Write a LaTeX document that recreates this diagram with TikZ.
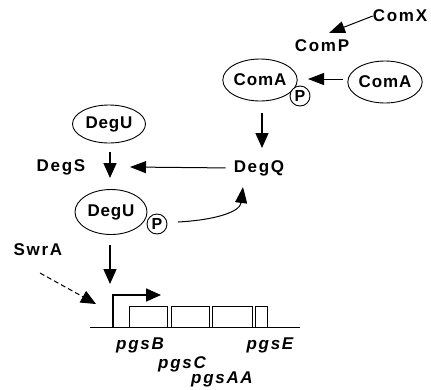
\documentclass[tikz,border=0pt]{standalone}
\usepackage{fontspec}
\setmainfont{Liberation Sans}
\usetikzlibrary{arrows.meta,shapes.geometric}
\newfontfamily\lblfont[LetterSpace=10]{Liberation Sans}
\newfontfamily\inlfont[LetterSpace=5]{Liberation Sans}
\tikzset{
  lbl/.style={font=\lblfont\bfseries\fontsize{17}{19}\selectfont, inner sep=0pt},
  gene/.style={font=\lblfont\bfseries\itshape\fontsize{17}{19}\selectfont, inner sep=0pt},
  ell/.style={draw, ellipse, line width=0.9pt, inner sep=0pt, font=\inlfont\bfseries\fontsize{17}{19}\selectfont},
  pc/.style={draw, circle, fill=white, line width=0.9pt, minimum size=20pt, inner sep=0pt, font=\bfseries\fontsize{16}{18}\selectfont},
  arr/.style={-{Triangle[length=15pt,width=13pt]}, line width=1.6pt},
  thinarr/.style={-{Triangle[length=16pt,width=12pt]}, line width=1pt},
  box/.style={draw, line width=0.9pt}
}
\begin{document}
\begin{tikzpicture}[x=1pt,y=-1pt]
\useasboundingbox (0,0) rectangle (431,389);
% top cluster
\node[lbl] (comx) at (400,16) {ComX};
\node[lbl] (comp) at (322,46) {ComP};
\node[ell, minimum width=71pt, minimum height=42pt] (comaL) at (260,80) {ComA};
\node[pc] (pL) at (300,96) {P};
\node[ell, minimum width=74pt, minimum height=42pt] (comaR) at (385,82) {ComA};
\coordinate (compTip) at (329,33);
\draw[thinarr] (comx.west) -- (compTip);
\coordinate (comaArrS) at (343,79);
\coordinate (comaArrE) at (308,79);
\draw[thinarr] (comaArrS) -- (comaArrE);
\coordinate (comaDownS) at (262,113);
\coordinate (comaDownE) at (262,148);
\draw[arr] (comaDownS) -- (comaDownE);
% DegU / DegS / DegQ
\node[lbl] (degq) at (259,168) {DegQ};
\node[lbl] (degs) at (61,167) {DegS};
\node[ell, minimum width=73pt, minimum height=38pt] (deguT) at (109,124) {DegU};
\node[ell, minimum width=72pt, minimum height=45pt] (deguB) at (111,212) {DegU};
\node[pc] (pB) at (157,224) {P};
\coordinate (degsTip) at (130,167);
\draw[thinarr, shorten <=8pt] (degq.west) -- (degsTip);
\coordinate (deguArrS) at (110,152);
\coordinate (deguArrE) at (110,178);
\draw[arr] (deguArrS) -- (deguArrE);
\coordinate (curveS) at (178,222);
\coordinate (degqTip) at (243,187);
\draw[thinarr] (curveS) .. controls (215,220) and (240,212) .. (degqTip);
% SwrA and gene
\node[lbl] (swra) at (38,250) {SwrA};
\coordinate (swrS) at (40,273);
\coordinate (swrE) at (96,304);
\draw[arr, line width=1pt, dashed, dash pattern=on 5pt off 3pt] (swrS) -- (swrE);
\coordinate (deguDownS) at (110,245);
\coordinate (deguDownE) at (110,284);
\draw[arr] (deguDownS) -- (deguDownE);
\coordinate (lineL) at (90,327);
\coordinate (lineR) at (300,327);
\draw[line width=0.9pt] (lineL) -- (lineR);
\coordinate (promB) at (113,327);
\coordinate (promT) at (113,295);
\coordinate (promE) at (161,295);
\draw[arr] (promB) -- (promT) -- (promE);
\draw[box] (129,306) rectangle (167,327);
\draw[box] (171,306) rectangle (209,327);
\draw[box] (212,306) rectangle (252,327);
\draw[box] (255,306) rectangle (267,327);
\node[gene] (pgsB) at (140,345) {pgsB};
\node[gene] (pgsC) at (182,364) {pgsC};
\node[gene] (pgsAA) at (222,379) {pgsAA};
\node[gene] (pgsE) at (270,345) {pgsE};
\end{tikzpicture}
\end{document}
